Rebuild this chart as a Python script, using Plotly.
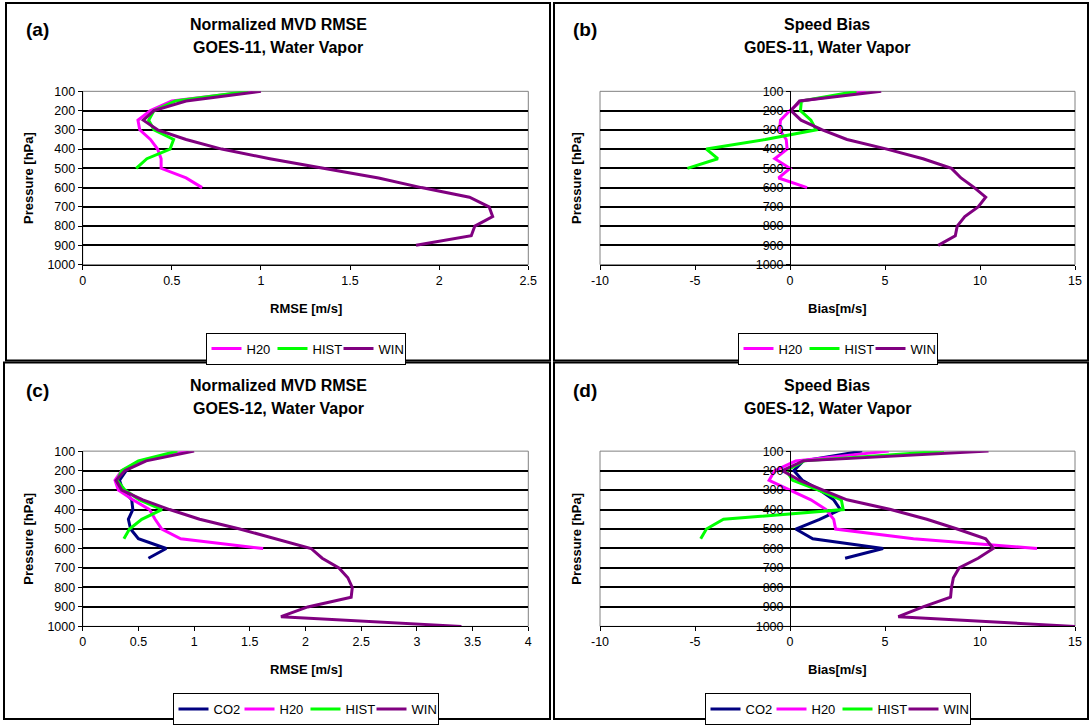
import plotly.graph_objects as go

W, H = 1091, 725

# ---------------- data ----------------
levels = [100, 150, 200, 250, 300, 350, 400, 450, 500, 550, 600, 650, 700, 750, 800, 850, 900, 950, 1000]
pressure_ticks = [100, 200, 300, 400, 500, 600, 700, 800, 900, 1000]

# (a) Normalized MVD RMSE, GOES-11 WV
a_H20 = [0.95, 0.50, 0.38, 0.31, 0.32, 0.38, 0.42, 0.44, 0.44, 0.58, 0.67]
a_HIST = [0.93, 0.52, 0.40, 0.37, 0.40, 0.51, 0.49, 0.36, 0.30]
a_WIN = [1.00, 0.58, 0.40, 0.34, 0.42, 0.58, 0.78, 1.05, 1.35, 1.66, 1.90, 2.17, 2.28, 2.30, 2.20, 2.18, 1.87]

# (b) Speed Bias, GOES-11 WV
b_H20 = [4.0, 0.6, 0.0, -0.5, -0.55, -0.2, -0.15, -0.8, 0.0, -0.6, 0.9]
b_HIST = [3.5, 0.6, 0.55, 1.1, 1.38, -1.3, -4.4, -3.8, -5.4]
b_WIN = [4.8, 0.5, 0.05, 0.58, 1.7, 3.0, 5.1, 7.0, 8.5, 9.0, 9.7, 10.3, 9.9, 9.2, 8.8, 8.7, 7.8]

# (c) Normalized MVD RMSE, GOES-12 WV
c_CO2_levels = [150, 200, 250, 300, 350, 400, 450, 500, 550, 600, 650]
c_CO2 = [0.52, 0.39, 0.33, 0.36, 0.44, 0.45, 0.41, 0.43, 0.50, 0.75, 0.59]
c_H20 = [0.95, 0.52, 0.35, 0.29, 0.32, 0.45, 0.60, 0.65, 0.71, 0.88, 1.62]
c_HIST = [0.85, 0.50, 0.35, 0.31, 0.38, 0.51, 0.71, 0.53, 0.42, 0.37]
c_WIN = [1.00, 0.57, 0.38, 0.30, 0.35, 0.54, 0.78, 1.05, 1.41, 1.74, 2.05, 2.15, 2.30, 2.38, 2.42, 2.41, 2.02, 1.78, 3.40]

# (d) Speed Bias, GOES-12 WV
d_CO2 = [3.8, 0.7, 0.2, 0.65, 1.56, 2.3, 2.65, 1.56, 0.3, 1.2, 4.9, 2.9]
d_H20 = [5.2, 0.3, -0.8, -1.1, 0.0, 1.1, 1.9, 2.3, 2.4, 6.5, 13.0]
d_HIST = [8.1, 0.75, -0.2, 0.14, 1.5, 2.7, 2.8, -3.5, -4.4, -4.7]
d_WIN = [10.45, 0.7, -0.4, 0.5, 1.74, 3.0, 5.3, 7.2, 8.8, 10.3, 10.7, 9.9, 8.9, 8.6, 8.5, 8.45, 7.0, 5.7, 15.0]

rmse_ticks_a = [0, 0.5, 1, 1.5, 2, 2.5]
rmse_ticks_c = [0, 0.5, 1, 1.5, 2, 2.5, 3, 3.5, 4]
bias_ticks = [-10, -5, 0, 5, 10, 15]

colors = {"CO2": "#000080", "H20": "#FF00FF", "HIST": "#00FF00", "WIN": "#800080"}

panel_titles = {
    "a": ("Normalized MVD RMSE", "GOES-11, Water Vapor"),
    "b": ("Speed Bias", "G0ES-11, Water Vapor"),
    "c": ("Normalized MVD RMSE", "GOES-12, Water Vapor"),
    "d": ("Speed Bias", "G0ES-12, Water Vapor"),
}
x_titles = {"a": "RMSE [m/s]", "b": "Bias[m/s]", "c": "RMSE [m/s]", "d": "Bias[m/s]"}
x_ticks = {"a": rmse_ticks_a, "b": bias_ticks, "c": rmse_ticks_c, "d": bias_ticks}

FONT = "Liberation Sans, Arial, sans-serif"


def px(x):
    return x / W


def py(y):
    return 1 - y / H


def fmt(v):
    return f"{v:g}"


fig = go.Figure()

panels = {
    "a": ("x", "y", "legend", [("H20", levels[:len(a_H20)], a_H20),
                               ("HIST", levels[:len(a_HIST)], a_HIST),
                               ("WIN", levels[:len(a_WIN)], a_WIN)]),
    "b": ("x2", "y2", "legend2", [("H20", levels[:len(b_H20)], b_H20),
                                  ("HIST", levels[:len(b_HIST)], b_HIST),
                                  ("WIN", levels[:len(b_WIN)], b_WIN)]),
    "c": ("x3", "y3", "legend3", [("CO2", c_CO2_levels, c_CO2),
                                  ("H20", levels[:len(c_H20)], c_H20),
                                  ("HIST", levels[:len(c_HIST)], c_HIST),
                                  ("WIN", levels[:len(c_WIN)], c_WIN)]),
    "d": ("x4", "y4", "legend4", [("CO2", levels[:len(d_CO2)], d_CO2),
                                  ("H20", levels[:len(d_H20)], d_H20),
                                  ("HIST", levels[:len(d_HIST)], d_HIST),
                                  ("WIN", levels[:len(d_WIN)], d_WIN)]),
}

for key, (xa, ya, lg, series) in panels.items():
    for name, p, v in series:
        fig.add_trace(go.Scatter(
            x=v, y=p, mode="lines", name=name,
            line=dict(color=colors[name], width=3),
            xaxis=xa, yaxis=ya, legend=lg,
        ))

# geometry (pixels)
x_left = (82.7, 528.3)
x_right = (600.0, 1075.0)
y_top = (91.7, 265.7)
y_bot = (453.0, 629.0)
geom = {"a": (x_left, y_top), "b": (x_right, y_top), "c": (x_left, y_bot), "d": (x_right, y_bot)}
axis_ids = {"a": ("xaxis", "yaxis", "x", "y"), "b": ("xaxis2", "yaxis2", "x2", "y2"),
            "c": ("xaxis3", "yaxis3", "x3", "y3"), "d": ("xaxis4", "yaxis4", "x4", "y4")}

tickfont = dict(family=FONT, size=12.5, color="black")
layout = {}
annotations = []
shapes = []

for key, ((x0, x1), (yt, yb)) in geom.items():
    xn, yn, xr, yr = axis_ids[key]
    tv = x_ticks[key]
    layout[xn] = dict(
        domain=[px(x0), px(x1)], range=[tv[0], tv[-1]], tickmode="array",
        tickvals=tv, ticktext=[fmt(v) for v in tv],
        anchor=yr, showgrid=False, zeroline=False, showline=True, linecolor="black",
        linewidth=1, ticks="outside", ticklen=4, tickcolor="black", tickfont=tickfont,
        fixedrange=True, automargin=False,
    )
    ydict = dict(
        domain=[py(yb), py(yt)], range=[1000, 100], tickmode="array",
        tickvals=pressure_ticks, showgrid=False, zeroline=False, showline=True,
        linecolor="black", linewidth=1, ticks="outside", ticklen=4, tickcolor="black",
        tickfont=tickfont, fixedrange=True, automargin=False,
        minor=dict(tickmode="array", tickvals=pressure_ticks[1:-1], showgrid=True,
                   gridcolor="black", gridwidth=1.5, ticks=""),
    )
    if tv[0] < 0:
        frac = (0 - tv[0]) / (tv[-1] - tv[0])
        ydict.update(anchor="free", position=px(x0 + frac * (x1 - x0)))
    else:
        ydict.update(anchor=xr)
    layout[yn] = ydict

    shapes.append(dict(type="rect", xref=f"{xr} domain", yref=f"{yr} domain",
                       x0=0, x1=1, y0=0, y1=1, line=dict(color="#808080", width=1),
                       layer="below"))

    ox = 0 if key in ("a", "c") else 548
    oy = 0 if key in ("a", "b") else 362
    tcx = 278 if key in ("a", "c") else 827

    annotations.append(dict(text=f"<b>({key})</b>", x=px(ox + 37), y=py(oy + 30),
                            xref="paper", yref="paper", showarrow=False,
                            font=dict(family=FONT, size=19, color="black"),
                            xanchor="center", yanchor="middle"))
    t1, t2 = panel_titles[key]
    annotations.append(dict(text=f"<b>{t1}</b>", x=px(tcx), y=py(oy + 25),
                            xref="paper", yref="paper", showarrow=False,
                            font=dict(family=FONT, size=16, color="black"),
                            xanchor="center", yanchor="middle"))
    annotations.append(dict(text=f"<b>{t2}</b>", x=px(tcx), y=py(oy + 48),
                            xref="paper", yref="paper", showarrow=False,
                            font=dict(family=FONT, size=16, color="black"),
                            xanchor="center", yanchor="middle"))
    annotations.append(dict(text=f"<b>{x_titles[key]}</b>", x=px((x0 + x1) / 2), y=py(oy + 310),
                            xref="paper", yref="paper", showarrow=False,
                            font=dict(family=FONT, size=13, color="black"),
                            xanchor="center", yanchor="middle"))
    annotations.append(dict(text="<b>Pressure [hPa]</b>", x=px(ox + 29), y=py((yt + yb) / 2),
                            xref="paper", yref="paper", showarrow=False, textangle=-90,
                            font=dict(family=FONT, size=13, color="black"),
                            xanchor="center", yanchor="middle"))

legend_common = dict(orientation="h", xanchor="center", yanchor="top",
                     bordercolor="black", borderwidth=1, bgcolor="white",
                     font=dict(family=FONT, size=13, color="black"),
                     itemwidth=30, entrywidth=21, entrywidthmode="pixels",
                     tracegroupgap=0, itemclick=False, itemdoubleclick=False)
layout["legend"] = dict(legend_common, x=px(305.5), y=py(334))
layout["legend2"] = dict(legend_common, x=px(837.5), y=py(334))
layout["legend3"] = dict(legend_common, x=px(305.5), y=py(696))
layout["legend4"] = dict(legend_common, x=px(837.5), y=py(696))

frame = dict(color="black", width=2)
for (fx0, fy0, fx1, fy1) in [(6, 3, 550, 362), (554, 3, 1088, 362),
                             (4, 364, 550, 722), (554, 364, 1088, 722)]:
    shapes.append(dict(type="rect", xref="paper", yref="paper",
                       x0=px(fx0), x1=px(fx1), y0=py(fy1), y1=py(fy0),
                       line=frame, layer="above"))

fig.update_layout(
    width=W, height=H, autosize=False,
    margin=dict(l=0, r=0, t=0, b=0, pad=0),
    paper_bgcolor="white", plot_bgcolor="white",
    showlegend=True,
    annotations=annotations, shapes=shapes,
    font=dict(family=FONT, color="black"),
    **layout,
)

fig.write_html("out.html", config={"displayModeBar": False})
